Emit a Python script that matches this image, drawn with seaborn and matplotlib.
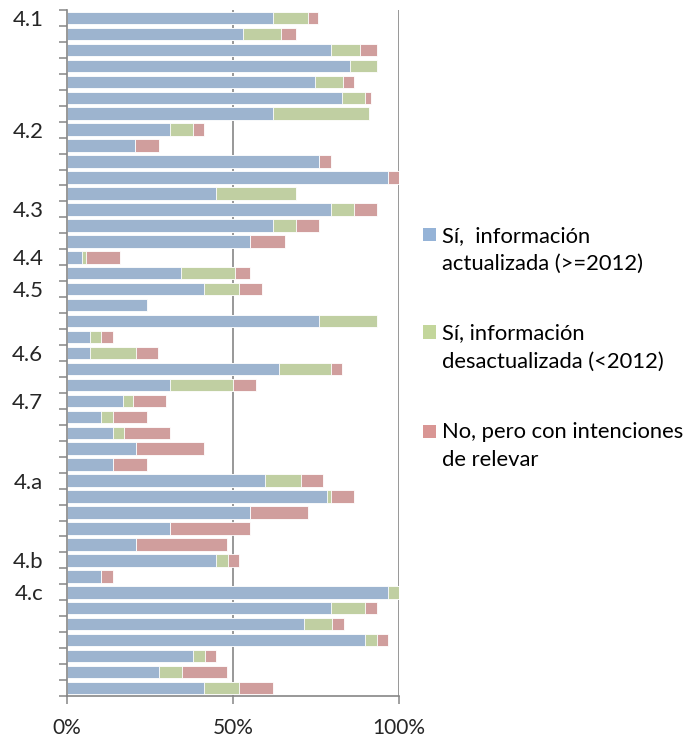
import pandas as pd
import matplotlib.pyplot as plt
import matplotlib.patches as mpatches
import seaborn as sns

# ─────────────────────────────────────────
# DATA (percent of respondents per indicator)
# ─────────────────────────────────────────

rowLabels = ["4.1", "", "", "", "", "", "", "4.2", "", "", "",
             "", "4.3", "", "", "4.4", "", "4.5", "", "", "",
             "4.6", "", "", "4.7", "", "", "", "", "4.a", "",
             "", "", "", "4.b", "", "4.c", "", "", "", "",
             "", ""]

actualizada = [62.0, 53.0, 79.5, 85.2, 74.7, 82.9, 62.0, 31.1, 20.6, 76.0, 96.8,
               44.9, 79.5, 62.0, 55.2, 4.5, 34.3, 41.3, 24.1, 76.0, 6.8,
               6.8, 63.9, 31.1, 16.8, 10.2, 13.9, 20.7, 13.9, 59.7, 78.3,
               55.2, 31.1, 20.7, 44.9, 10.3, 96.8, 79.5, 71.4, 89.9, 38.1,
               27.6, 41.3]

desactualizada = [10.5, 11.5, 8.7, 8.1, 8.3, 7.0, 28.9, 7.0, 0.0, 0.0, 0.0,
                  24.2, 6.8, 7.1, 0.0, 1.1, 16.4, 10.5, 0.0, 17.3, 3.5,
                  13.9, 15.6, 18.9, 3.1, 3.7, 3.3, 0.0, 0.0, 10.7, 1.2,
                  0.0, 0.0, 0.0, 3.5, 0.0, 3.2, 10.4, 8.3, 3.4, 3.4,
                  6.9, 10.5]

intenciones = [3.0, 4.6, 5.1, 0.0, 3.3, 1.6, 0.0, 3.3, 7.0, 3.4, 3.2,
               0.0, 7.0, 6.8, 10.5, 10.4, 4.5, 6.9, 0.0, 0.0, 3.5,
               6.8, 3.4, 6.9, 9.8, 10.2, 13.8, 20.7, 10.2, 6.6, 6.8,
               17.3, 24.1, 27.6, 3.4, 3.5, 0.0, 3.4, 3.7, 3.5, 3.4,
               13.8, 10.3]

legendLabels = ["Sí,  información\nactualizada (>=2012)",
                "Sí, información\ndesactualizada (<2012)",
                "No, pero con intenciones\nde relevar"]
colors = ["#95B3D7", "#C3D69B", "#D99694"]

df = pd.DataFrame({
    "row": [f"r{i:02d}" for i in range(len(rowLabels))],
    "blue": actualizada,
    "green": desactualizada,
    "red": intenciones,
})
# cumulative ends for the overlay-style stacked bars
df["blueGreen"] = df["blue"] + df["green"]
df["total"] = df["blueGreen"] + df["red"]
order = list(df["row"])

# ─────────────────────────────────────────
# PLOT
# ─────────────────────────────────────────

sns.set_theme(style="white")
plt.rcParams["font.family"] = ["Lato", "DejaVu Sans"]

fig = plt.figure(figsize=(6.88, 7.38), dpi=100)
ax = fig.add_axes([67 / 688, 1 - 696 / 738, (399 - 67) / 688, (696 - 10) / 738])

barKw = dict(data=df, y="row", order=order, orient="h", width=0.78,
             edgecolor="white", linewidth=0.6, ax=ax)
sns.barplot(x="total", color=colors[2], **barKw)
sns.barplot(x="blueGreen", color=colors[1], **barKw)
sns.barplot(x="blue", color=colors[0], **barKw)

gray = "#868686"
ax.set_xlim(0, 100)
ax.set_ylim(len(rowLabels) - 0.5, -0.5)
ax.set_xlabel("")
ax.set_ylabel("")

# x axis
ax.set_xticks([0, 50, 100])
ax.set_xticklabels(["0%", "50%", "100%"], fontsize=15)
for xv in [50, 100]:
    ax.axvline(xv, color=gray, lw=1.2, zorder=0)

# y axis: labels on group rows, tick marks between rows
labelRows = [i for i, lab in enumerate(rowLabels) if lab]
ax.set_yticks(labelRows)
ax.set_yticklabels([rowLabels[i] for i in labelRows], fontsize=16)
ax.set_yticks([i - 0.5 for i in range(len(rowLabels) + 1)], minor=True)

ax.tick_params(axis="y", which="major", left=True, length=0, pad=17)
ax.tick_params(axis="y", which="minor", left=True, length=6, color=gray, width=1.1)
ax.tick_params(axis="x", which="major", bottom=True, length=6, color=gray,
               width=1.1, pad=10)

for side in ["top", "right"]:
    ax.spines[side].set_visible(False)
for side in ["left", "bottom"]:
    ax.spines[side].set_color(gray)
    ax.spines[side].set_linewidth(1.2)

# legend drawn by hand so the square sits on the first text line
W, H = 688, 738
squareCenters = [234.5, 332, 431]
for lab, col, yc in zip(legendLabels, colors, squareCenters):
    fig.patches.append(mpatches.Rectangle(
        (423 / W, 1 - (yc + 6.5) / H), 13 / W, 13 / H,
        transform=fig.transFigure, facecolor=col, edgecolor="none"))
    for k, line in enumerate(lab.split("\n")):
        baseline = yc + 7.5 + 28 * k
        fig.text(442 / W, 1 - baseline / H, line, fontsize=15.8,
                 va="baseline", ha="left", color="black")

fig.savefig("out.png", dpi=100)
